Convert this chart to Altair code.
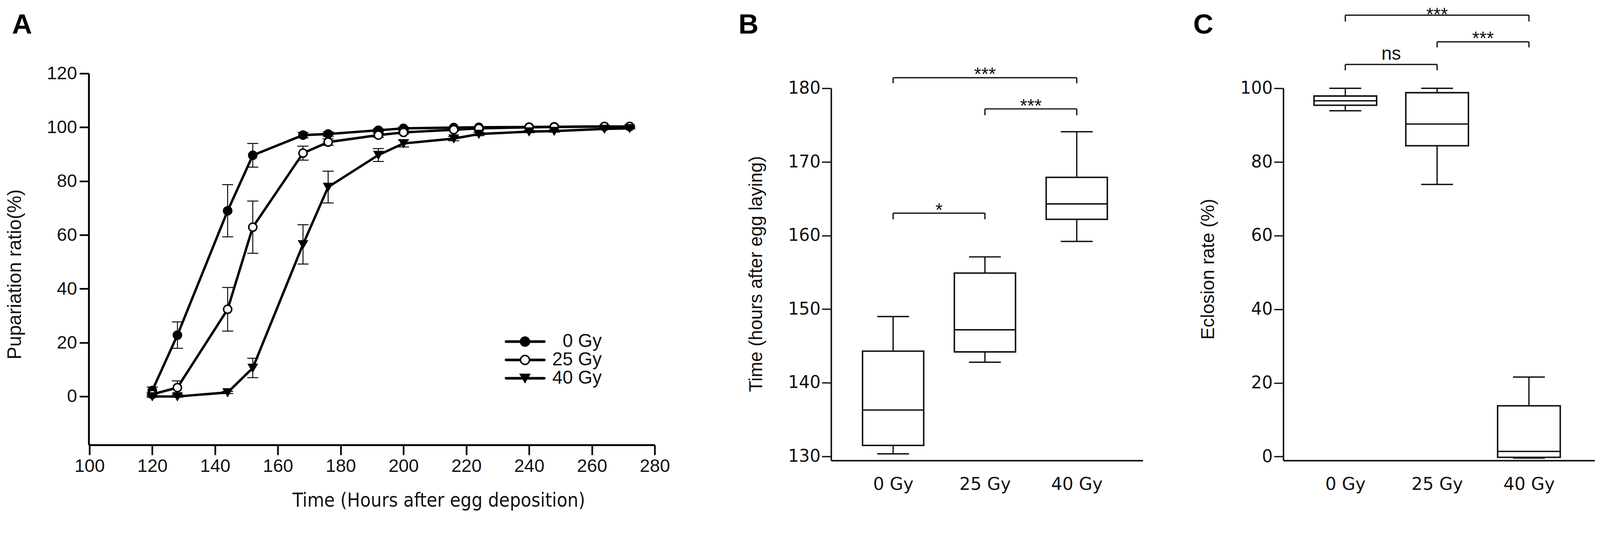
import altair as alt
import pandas as pd

# ---------------- Panel A : pupariation time course ----------------
series = ["0 Gy", "25 Gy", "40 Gy"]
times = [120, 128, 144, 152, 168, 176, 192, 200, 216, 224, 240, 248, 264, 272]
mean_0 = [2.2, 22.8, 69.0, 89.6, 97.1, 97.5, 98.9, 99.6, 99.9, 100.0, 100.1, 100.2, 100.3, 100.3]
sem_0 = [1.3, 4.9, 9.7, 4.4, 1.0, 0.8, 0.5, 0.4, 0.2, 0.2, 0.1, 0.1, 0.1, 0.1]
mean_25 = [0.8, 3.3, 32.4, 62.9, 90.4, 94.5, 97.1, 98.1, 99.1, 99.6, 100.0, 100.1, 100.3, 100.3]
sem_25 = [0.6, 2.5, 8.1, 9.7, 2.6, 1.2, 0.8, 0.6, 0.4, 0.3, 0.2, 0.1, 0.1, 0.1]
mean_40 = [0.0, 0.0, 1.5, 10.6, 56.5, 77.8, 89.7, 94.0, 95.8, 97.5, 98.4, 98.6, 99.4, 99.6]
sem_40 = [0.3, 0.3, 0.4, 3.6, 7.3, 5.9, 2.4, 1.3, 0.8, 0.6, 0.4, 0.4, 0.2, 0.2]
shapes = ["circle", "circle", "triangle-down"]
fills = ["black", "white", "black"]
x_ticks_a = [100, 120, 140, 160, 180, 200, 220, 240, 260, 280]
y_ticks_a = [0, 20, 40, 60, 80, 100, 120]

# ---------------- Panel B : pupariation time box plot ----------------
groups = ["0 Gy", "25 Gy", "40 Gy"]
group_pos = [0, 1, 2]
b_min = [130.35, 142.8, 159.2]
b_q1 = [131.5, 144.2, 162.2]
b_med = [136.3, 147.2, 164.3]
b_q3 = [144.3, 154.9, 167.9]
b_max = [149.0, 157.1, 174.1]
b_ticks = [130, 140, 150, 160, 170, 180]
b_g1 = [0, 1, 0]
b_g2 = [2, 2, 1]
b_h = [181.43, 177.2, 163.04]
b_drop = [180.68, 176.34, 162.2]
b_lab = ["***", "***", "*"]
b_ty = [181.05, 176.8, 162.6]

# ---------------- Panel C : eclosion rate box plot ----------------
c_min = [93.9, 73.9, -0.4]
c_q1 = [95.4, 84.4, -0.2]
c_med = [96.6, 90.3, 1.4]
c_q3 = [97.9, 98.8, 13.8]
c_max = [100.0, 100.0, 21.6]
c_ticks = [0, 20, 40, 60, 80, 100]
c_g1 = [0, 1, 0]
c_g2 = [2, 2, 1]
c_h = [119.85, 112.61, 106.48]
c_drop = [118.14, 111.1, 104.87]
c_lab = ["***", "***", "ns"]
c_ty = [118.4, 111.9, 107.8]

panel_labels = ["A", "B", "C"]

CONDENSED = "DejaVu Sans Condensed, Liberation Sans Narrow, Liberation Sans, sans-serif"
ARIAL = "Liberation Sans, Arial, sans-serif"
WIDE = "DejaVu Sans, Verdana, sans-serif"
INK = "#111111"

# ================= Panel A =================
rows = []
for s, m, e in zip(series, [mean_0, mean_25, mean_40], [sem_0, sem_25, sem_40]):
    for t, mv, ev in zip(times, m, e):
        rows.append({"series": s, "t": t, "mean": mv, "sem": ev})
dfA = pd.DataFrame(rows)

xa_scale = alt.Scale(domain=[100, 280], range=[2, 1527], nice=False, zero=False)
ya_scale = alt.Scale(domain=[-18, 120], nice=False, zero=False)
xa_axis = alt.Axis(values=x_ticks_a, title="Time (Hours after egg deposition)",
                   titleFont=CONDENSED, titleFontSize=52, titleFontWeight="normal",
                   titleX=944, titleY=166, titleBaseline="alphabetic", titleAlign="center",
                   labelFont=ARIAL, labelFontSize=49, labelPadding=6, labelColor=INK,
                   tickSize=27, tickWidth=4.5, domainWidth=5, domainColor="black",
                   tickColor="black", titleColor=INK, grid=False, labelFlush=False,
                   labelOverlap=False)
ya_axis = alt.Axis(values=y_ticks_a, title="Pupariation ratio(%)",
                   titleFont=ARIAL, titleFontSize=52, titleFontWeight="normal",
                   titleX=-199, titleY=542, titleBaseline="middle", titleAlign="center",
                   titleAngle=270,
                   labelFont=ARIAL, labelFontSize=49, labelPadding=7, labelColor=INK,
                   tickSize=25, tickWidth=4.5, domainWidth=5, domainColor="black",
                   tickColor="black", titleColor=INK, grid=False, labelFlush=False,
                   labelOverlap=False)

shape_enc = alt.Shape("series:N", scale=alt.Scale(domain=series, range=shapes), legend=None)
fill_enc = alt.Fill("series:N", scale=alt.Scale(domain=series, range=fills), legend=None)

baseA = alt.Chart(dfA)
err = baseA.transform_calculate(lo="datum.mean - datum.sem", hi="datum.mean + datum.sem").mark_rule(
    color="black", strokeWidth=2.5).encode(
    x=alt.X("t:Q", scale=xa_scale, axis=xa_axis),
    y=alt.Y("lo:Q", scale=ya_scale, axis=ya_axis),
    y2="hi:Q")
caps = baseA.transform_calculate(lo="datum.mean - datum.sem", hi="datum.mean + datum.sem").transform_fold(
    ["lo", "hi"]).mark_tick(orient="horizontal", size=30, thickness=2.5, color="black", opacity=1).encode(
    x=alt.X("t:Q", scale=xa_scale, axis=xa_axis),
    y=alt.Y("value:Q", scale=ya_scale, axis=ya_axis))
lines = baseA.mark_line(color="black", strokeWidth=6.5).encode(
    x=alt.X("t:Q", scale=xa_scale, axis=xa_axis),
    y=alt.Y("mean:Q", scale=ya_scale, axis=ya_axis),
    detail="series:N")
pts = baseA.mark_point(size=480, strokeWidth=4, opacity=1, stroke="black").encode(
    x=alt.X("t:Q", scale=xa_scale, axis=xa_axis),
    y=alt.Y("mean:Q", scale=ya_scale, axis=ya_axis),
    shape=shape_enc, fill=fill_enc)
mainA = alt.layer(err, caps, lines, pts)

dfL = pd.DataFrame({"series": series})
leg_y = alt.Y("series:N", scale=alt.Scale(type="point", domain=series, range=[724, 823], padding=0), axis=None)
leg_rule = alt.Chart(dfL).mark_rule(color="black", strokeWidth=7, strokeCap="round").encode(
    y=leg_y, x=alt.value(1126), x2=alt.value(1229))
leg_pt = alt.Chart(dfL).mark_point(size=580, strokeWidth=4, opacity=1, stroke="black").encode(
    y=leg_y, x=alt.value(1177), shape=shape_enc, fill=fill_enc)
leg_txt = alt.Chart(dfL).mark_text(align="right", baseline="middle", font=ARIAL, fontSize=50, color=INK).encode(
    y=leg_y, x=alt.value(1384), text="series:N")
legendA = alt.layer(leg_rule, leg_pt, leg_txt)

labA = alt.Chart(pd.DataFrame({"lab": [panel_labels[0]]})).mark_text(
    font=ARIAL, fontSize=75, fontWeight="bold", color="black", align="center", baseline="middle").encode(
    x=alt.value(-180), y=alt.value(-131), text="lab:N")

chartA = alt.layer(mainA, legendA, labA).resolve_scale(y="independent").properties(width=1624, height=1003)


# ================= Box panels =================
label_expr = "[" + ",".join("'" + g + "'" for g in groups) + "][datum.value]"


def box_panel(vmin, q1, med, q3, vmax, ticks, ydomain, ytitle, title_y, g1, g2, h, drop, lab, ty,
              plabel, plabel_x, width, box_w):
    df = pd.DataFrame({"pos": group_pos, "grp": groups, "lo": vmin, "q1": q1, "med": med,
                       "q3": q3, "hi": vmax})
    xs = alt.Scale(domain=[-0.655, -0.655 + width / 250.7], range=[0, width], nice=False, zero=False)
    ys = alt.Scale(domain=ydomain, range=[1045, 40], nice=False, zero=False)
    xax = alt.Axis(values=group_pos, labelExpr=label_expr, ticks=False, tickSize=0, labelPadding=42,
                   labelFont=WIDE, labelFontSize=47, labelColor=INK, title=None, domainWidth=4,
                   domainColor=INK, grid=False, labelFlush=False, labelOverlap=False)
    yax = alt.Axis(values=ticks, title=ytitle, titleFont=ARIAL, titleFontSize=50, titleFontWeight="normal",
                   titleX=-202, titleY=title_y, titleBaseline="middle", titleAlign="center", titleAngle=270,
                   titleColor=INK, labelFont=WIDE, labelFontSize=46, labelColor=INK, labelPadding=4,
                   tickSize=25, tickWidth=3.5, tickColor=INK, domainWidth=4, domainColor=INK, grid=False,
                   labelFlush=False, labelOverlap=False)
    base = alt.Chart(df)
    X = alt.X("pos:Q", scale=xs, axis=xax)
    whisk = base.mark_rule(color=INK, strokeWidth=3.5).encode(
        x=X, y=alt.Y("lo:Q", scale=ys, axis=yax), y2="hi:Q")
    box = base.mark_bar(width=box_w, fill="white", stroke=INK, strokeWidth=4, opacity=1).encode(
        x=X, y=alt.Y("q1:Q", scale=ys, axis=yax), y2="q3:Q")
    medl = base.mark_tick(orient="horizontal", size=box_w, thickness=3.8, color=INK, opacity=1).encode(
        x=X, y=alt.Y("med:Q", scale=ys, axis=yax))
    capl = base.transform_fold(["lo", "hi"]).mark_tick(orient="horizontal", size=86, thickness=3.6,
                                                       color=INK, opacity=1).encode(
        x=X, y=alt.Y("value:Q", scale=ys, axis=yax))

    dfs = pd.DataFrame({"g1": g1, "g2": g2, "h": h, "drop": drop, "label": lab, "ty": ty})
    bb = alt.Chart(dfs)
    hl = bb.mark_rule(color=INK, strokeWidth=3.4).encode(
        x=alt.X("g1:Q", scale=xs, axis=xax), x2="g2:Q", y=alt.Y("h:Q", scale=ys, axis=yax))
    vl = bb.transform_fold(["g1", "g2"], as_=["end", "gx"]).mark_rule(color=INK, strokeWidth=3.4).encode(
        x=alt.X("gx:Q", scale=xs, axis=xax), y=alt.Y("h:Q", scale=ys, axis=yax), y2="drop:Q")
    tx = bb.transform_calculate(mid="(datum.g1 + datum.g2) / 2").mark_text(
        font=ARIAL, fontSize=50, color=INK, baseline="alphabetic", align="center").encode(
        x=alt.X("mid:Q", scale=xs, axis=xax), y=alt.Y("ty:Q", scale=ys, axis=yax), text="label:N")

    lab_c = alt.Chart(pd.DataFrame({"lab": [plabel]})).mark_text(
        font=ARIAL, fontSize=75, fontWeight="bold", color="black", align="center", baseline="middle").encode(
        x=alt.value(plabel_x), y=alt.value(-131), text="lab:N")

    return alt.layer(whisk, box, medl, capl, hl, vl, tx, lab_c).properties(width=width, height=1045)


chartB = box_panel(b_min, b_q1, b_med, b_q3, b_max, b_ticks, [129.45, 180],
                   "Time (hours after egg laying)", 541, b_g1, b_g2, b_h, b_drop, b_lab, b_ty,
                   panel_labels[1], -223, 841, 165)
chartC = box_panel(c_min, c_q1, c_med, c_q3, c_max, c_ticks, [-1.06, 100],
                   "Eclosion rate (%)", 528, c_g1, c_g2, c_h, c_drop, c_lab, c_ty,
                   panel_labels[2], -216, 840, 169)

chart = alt.hconcat(chartA, chartB, chartC, spacing=379, bounds="flush").properties(
    autosize=alt.AutoSizeParams(type="none"),
    padding={"left": 231, "top": 153, "right": 4069, "bottom": 1217},
    background="white"
).configure_view(stroke=None)

chart.save("out.html", embed_options={"renderer": "svg", "actions": False})
